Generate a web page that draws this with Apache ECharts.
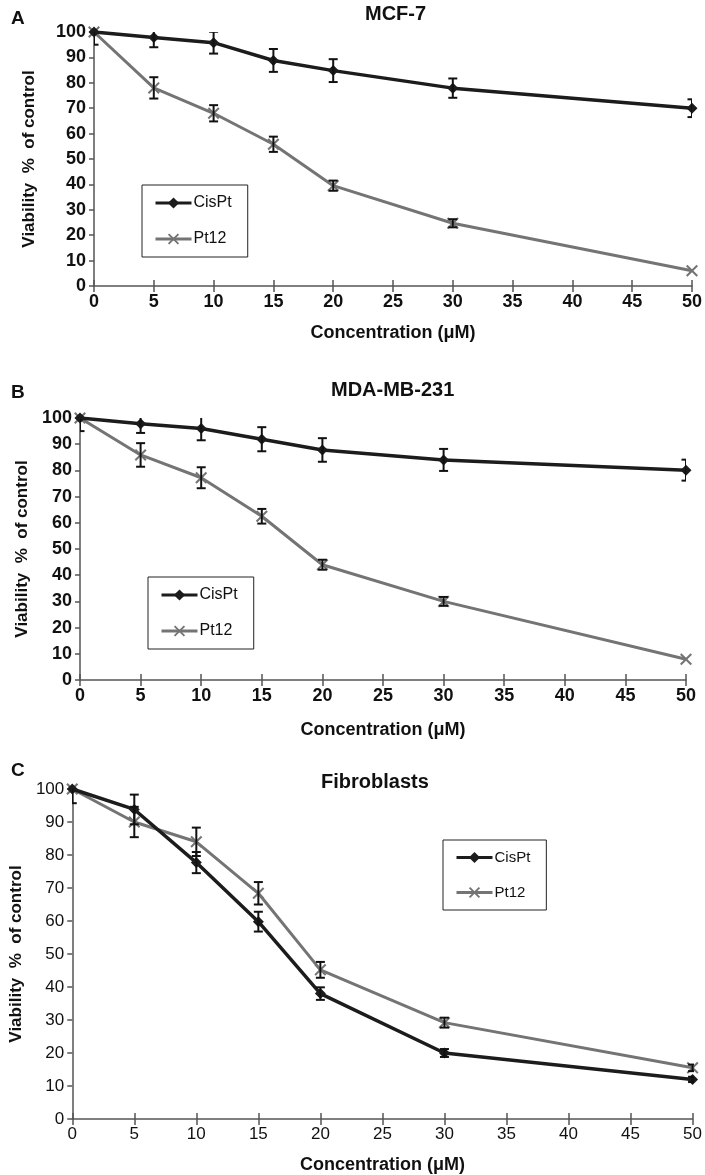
<!DOCTYPE html>
<html><head><meta charset="utf-8">
<script src="https://cdn.jsdelivr.net/npm/echarts@6/dist/echarts.min.js"></script>
<style>html,body{margin:0;padding:0;background:#fff}#c{width:705px;height:1175px}</style>
</head><body><div id="c"></div>
<script>
const conc = [0, 5, 10, 15, 20, 30, 50];
const xTicks = [0, 5, 10, 15, 20, 25, 30, 35, 40, 45, 50];
const panelTitles = ['MCF-7', 'MDA-MB-231', 'Fibroblasts'];
const panelLetters = ['A', 'B', 'C'];
const seriesNames = ['CisPt', 'Pt12'];

const mcfCis    = [100, 97.8, 95.8, 88.8, 84.8, 77.9, 70];
const mcfCisErr = [5, 3.8, 4.3, 4.5, 4.5, 3.8, 3.5];
const mcfPt     = [100, 78, 68, 55.8, 39.5, 24.7, 6];
const mcfPtErr  = [0, 4.2, 3.2, 3, 2, 1.6, 0];

const mdaCis    = [100, 97.8, 96, 91.9, 87.8, 84, 80.1];
const mdaCisErr = [5, 3.5, 4.5, 4.6, 4.5, 4.2, 4];
const mdaPt     = [100, 85.9, 77.2, 62.5, 44, 30, 7.9];
const mdaPtErr  = [0, 4.5, 4, 2.8, 1.9, 1.7, 0];

const fibCis    = [100, 93.8, 77.7, 59.8, 38, 20, 12];
const fibCisErr = [4.3, 4.5, 3.2, 3, 1.9, 1.2, 0.8];
const fibPt     = [100, 90, 84, 68.4, 45.2, 29.2, 15.5];
const fibPtErr  = [0, 4.6, 4.3, 3.4, 2.4, 1.5, 1];

const FONT = '"Liberation Sans", Arial, sans-serif';
const CIS_COLOR = '#1c1c1c';
const PT_COLOR = '#747474';
const X_SYMBOL = 'path://M0,1.2L1.2,0L5,3.8L8.8,0L10,1.2L6.2,5L10,8.8L8.8,10L5,6.2L1.2,10L0,8.8L3.8,5Z';

const panels = [
  { cis: mcfCis, cisErr: mcfCisErr, pt: mcfPt, ptErr: mcfPtErr,
    grid: { left: 94, right: 13, top: 32, height: 254 },
    tickSize: 18, tickWeight: 'bold', yGap: 56, xGap: 38,
    legend: { left: 142, top: 185 }, title: { left: 360, top: -1 }, letter: { left: 6, top: 4 } },
  { cis: mdaCis, cisErr: mdaCisErr, pt: mdaPt, ptErr: mdaPtErr,
    grid: { left: 80, right: 19, top: 418, height: 262 },
    tickSize: 18, tickWeight: 'bold', yGap: 48, xGap: 41,
    legend: { left: 148, top: 577 }, title: { left: 326, top: 375 }, letter: { left: 6, top: 378 } },
  { cis: fibCis, cisErr: fibCisErr, pt: fibPt, ptErr: fibPtErr,
    grid: { left: 62, right: 9, top: 789, height: 330 },
    tickSize: 17, tickWeight: 'normal', yGap: 40, xGap: 37,
    legend: { left: 443, top: 840 }, title: { left: 316, top: 767 }, letter: { left: 6, top: 756 } }
];

function errData(vals, errs) {
  const out = [];
  conc.forEach((x, i) => { if (errs[i] > 0) out.push([x, vals[i] - errs[i], vals[i] + errs[i]]); });
  return out;
}

function errRender(params, api) {
  const x = api.value(0);
  const lo = api.coord([x, api.value(1)]);
  const hi = api.coord([x, api.value(2)]);
  const w = 4.5;
  const st = { stroke: '#111', lineWidth: 2 };
  return { type: 'group', children: [
    { type: 'line', shape: { x1: lo[0], y1: lo[1], x2: hi[0], y2: hi[1] }, style: st },
    { type: 'line', shape: { x1: lo[0] - w, y1: lo[1], x2: lo[0] + w, y2: lo[1] }, style: st },
    { type: 'line', shape: { x1: hi[0] - w, y1: hi[1], x2: hi[0] + w, y2: hi[1] }, style: st }
  ]};
}

const option = { animation: false, backgroundColor: '#fff',
  grid: [], xAxis: [], yAxis: [], series: [], legend: [], title: [] };

panels.forEach((p, k) => {
  option.grid.push(Object.assign({ containLabel: false }, p.grid));
  const axLine = { lineStyle: { color: '#555', width: 1.5 } };
  option.xAxis.push({
    type: 'value', gridIndex: k, min: 0, max: 50, interval: 5,
    name: 'Concentration (\u03bcM)', nameLocation: 'middle', nameGap: p.xGap,
    nameTextStyle: { fontFamily: FONT, fontWeight: 'bold', fontSize: 18, color: '#111' },
    axisLine: axLine, axisTick: { show: true, length: 6, lineStyle: { color: '#555', width: 1.5 } },
    splitLine: { show: false },
    axisLabel: { fontFamily: FONT, fontSize: p.tickSize, fontWeight: p.tickWeight, color: '#111', margin: 7,
      formatter: v => xTicks.includes(v) ? String(v) : '' }
  });
  option.xAxis.push({
    type: 'value', gridIndex: k, min: 0, max: 50, interval: 5, position: 'bottom',
    axisLine: { show: false }, axisLabel: { show: false }, splitLine: { show: false },
    axisTick: { show: true, inside: true, length: 6, lineStyle: { color: '#555', width: 1.5 } }
  });
  option.yAxis.push({
    type: 'value', gridIndex: k, min: 0, max: 100, interval: 10,
    name: 'Viability  %  of control', nameLocation: 'middle', nameGap: p.yGap,
    nameTextStyle: { fontFamily: FONT, fontWeight: 'bold', fontSize: 17, color: '#111' },
    axisLine: Object.assign({ show: true }, axLine),
    axisTick: { show: true, length: 5, lineStyle: { color: '#555', width: 1.5 } },
    splitLine: { show: false },
    axisLabel: { fontFamily: FONT, fontSize: p.tickSize, fontWeight: p.tickWeight, color: '#111', margin: 8 }
  });
  const xi = k * 2;
  option.series.push({
    name: seriesNames[0], type: 'line', xAxisIndex: xi, yAxisIndex: k,
    data: conc.map((x, i) => [x, p.cis[i]]), z: 3,
    lineStyle: { color: CIS_COLOR, width: 3.5 }, itemStyle: { color: CIS_COLOR },
    symbol: 'diamond', symbolSize: 11, showSymbol: true
  });
  option.series.push({
    name: seriesNames[1], type: 'line', xAxisIndex: xi, yAxisIndex: k,
    data: conc.map((x, i) => [x, p.pt[i]]), z: 2,
    lineStyle: { color: PT_COLOR, width: 3 }, itemStyle: { color: PT_COLOR },
    symbol: X_SYMBOL, symbolSize: 12, showSymbol: true
  });
  option.series.push({ type: 'custom', xAxisIndex: xi, yAxisIndex: k, clip: true, z: 4,
    renderItem: errRender, data: errData(p.cis, p.cisErr) });
  option.series.push({ type: 'custom', xAxisIndex: xi, yAxisIndex: k, clip: true, z: 4,
    renderItem: errRender, data: errData(p.pt, p.ptErr) });
  option.legend.push({
    data: seriesNames, orient: 'vertical', left: p.legend.left, top: p.legend.top,
    selectedMode: false, borderColor: '#222', borderWidth: 1, borderRadius: 0,
    padding: [10, 16, 10, 12], itemGap: 20, itemWidth: 36, itemHeight: 14,
    lineStyle: { width: 3 },
    textStyle: { fontFamily: FONT, fontSize: k === 2 ? 15 : 16, color: '#111', padding: [0, 0, 0, -3] }
  });
  option.title.push({ text: panelTitles[k], left: p.title.left, top: p.title.top,
    textStyle: { fontFamily: FONT, fontWeight: 'bold', fontSize: 20, color: '#111' } });
  option.title.push({ text: panelLetters[k], left: p.letter.left, top: p.letter.top,
    textStyle: { fontFamily: FONT, fontWeight: 'bold', fontSize: 19, color: '#111' } });
});

const chart = echarts.init(document.getElementById('c'), null, { renderer: 'canvas' });
chart.setOption(option);
</script>
</body></html>
